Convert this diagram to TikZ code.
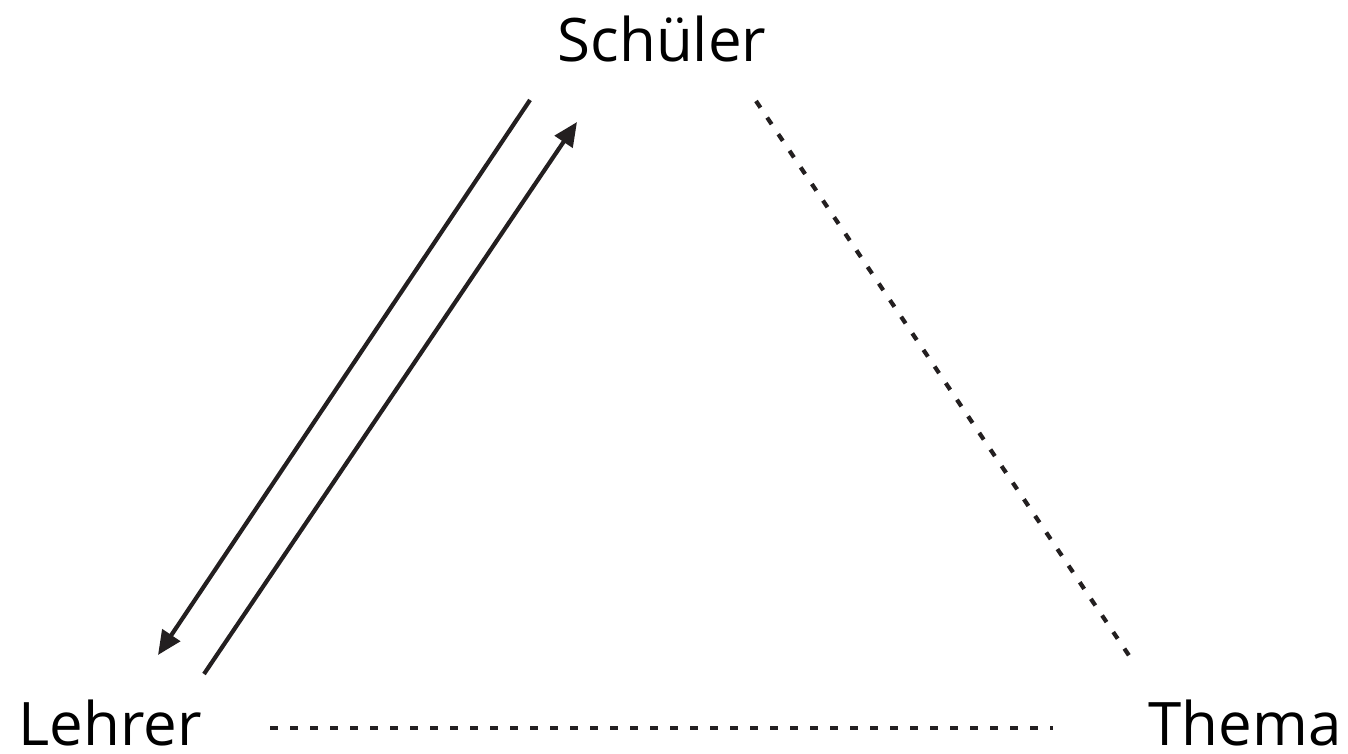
\documentclass[tikz,border=0pt]{standalone}
\usepackage{fontspec}
\setmainfont{Open Sans}
\usetikzlibrary{arrows.meta}
\definecolor{ink}{HTML}{231F20}
\tikzset{
  lbl/.style={font=\fontsize{60}{72}\selectfont, inner sep=0pt, text depth=0pt, anchor=base, text=black},
  solidline/.style={draw=ink, line width=4.2pt, -{Triangle[length=24pt,width=21pt]}},
  dashline/.style={draw=ink, line width=4.2pt, dash pattern=on 8pt off 12pt}
}
\begin{document}
\begin{tikzpicture}[x=1pt,y=-1pt]
\useasboundingbox (0,0) rectangle (1348,754);
\node[lbl] (s) at (662,62) {Schüler};
\node[lbl] (l) at (110,745) {Lehrer};
\node[lbl] (t) at (1245,745) {Thema};
\coordinate (a1s) at (530,100);
\coordinate (a1e) at (158,655);
\coordinate (a2s) at (204,674);
\coordinate (a2e) at (577,122);
\coordinate (d1s) at (756,101);
\coordinate (d1e) at (1130,657);
\coordinate (d2s) at (270,728);
\coordinate (d2e) at (1053,728);
\draw[solidline] (a1s) -- (a1e);
\draw[solidline] (a2s) -- (a2e);
\draw[dashline] (d1s) -- (d1e);
\draw[dashline] (d2s) -- (d2e);
\end{tikzpicture}
\end{document}
